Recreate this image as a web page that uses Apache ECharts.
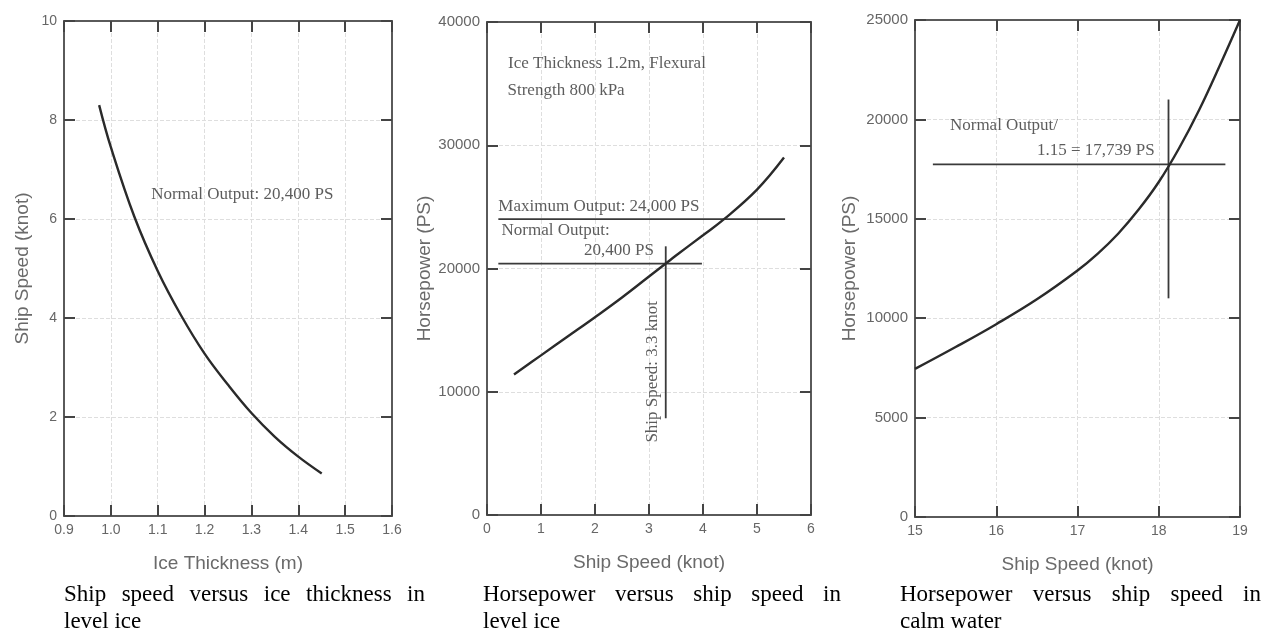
<!DOCTYPE html>
<html>
<head>
<meta charset="utf-8">
<script src="https://cdn.jsdelivr.net/npm/echarts@6/dist/echarts.min.js"></script>
<style>
html,body{margin:0;padding:0;background:#fff;}
#chart{position:absolute;left:0;top:0;width:1271px;height:630px;}
.cap{position:absolute;top:580px;font-family:'Liberation Serif','Times New Roman',serif;font-size:23px;line-height:27px;color:#000;}
.cap .l1{text-align:justify;text-align-last:justify;}
</style>
</head>
<body>
<div id="chart"></div>
<div class="cap" style="left:64px;width:361px"><div class="l1">Ship speed versus ice thickness in</div><div>level ice</div></div>
<div class="cap" style="left:483px;width:358px"><div class="l1">Horsepower versus ship speed in</div><div>level ice</div></div>
<div class="cap" style="left:900px;width:361px"><div class="l1">Horsepower versus ship speed in</div><div>calm water</div></div>
<script>
// ---- Panel 1: ship speed vs ice thickness (level ice)
const p1Thickness = [0.975, 1.0, 1.05, 1.1, 1.15, 1.2, 1.25, 1.3, 1.35, 1.4, 1.45];
const p1Speed     = [8.3,   7.45, 6.05, 4.95, 4.05, 3.28, 2.65, 2.08, 1.6, 1.2, 0.86];
const p1XTicks = [0.9, 1.0, 1.1, 1.2, 1.3, 1.4, 1.5, 1.6];
const p1YTicks = [0, 2, 4, 6, 8, 10];

// ---- Panel 2: horsepower vs ship speed (level ice)
const p2Speed = [0.5, 1, 1.5, 2, 2.5, 3, 3.31, 3.5, 4, 4.39, 5, 5.5];
const p2Power = [11400, 12950, 14500, 16050, 17650, 19350, 20400, 21050, 22700, 24000, 26400, 29000];
const p2XTicks = [0, 1, 2, 3, 4, 5, 6];
const p2YTicks = [0, 10000, 20000, 30000, 40000];
const p2MaxLineX = [0.21, 5.52], p2MaxLineY = [24000, 24000];
const p2NormLineX = [0.21, 3.98], p2NormLineY = [20400, 20400];
const p2SpeedLineX = [3.31, 3.31], p2SpeedLineY = [21800, 7850];

// ---- Panel 3: horsepower vs ship speed (calm water)
const p3Speed = [15, 15.5, 16, 16.5, 17, 17.25, 17.5, 17.75, 18, 18.25, 18.5, 18.75, 19];
const p3Power = [7450, 8550, 9700, 10950, 12400, 13250, 14250, 15450, 16850, 18550, 20500, 22700, 25000];
const p3XTicks = [15, 16, 17, 18, 19];
const p3YTicks = [0, 5000, 10000, 15000, 20000, 25000];
const p3HLineX = [15.22, 18.82], p3HLineY = [17739, 17739];
const p3VLineX = [18.12, 18.12], p3VLineY = [21000, 11000];

// ---- Annotation texts: [x, y, text, align, rotate]
const p1Notes = [[1.086, 6.5, 'Normal Output: 20,400 PS', 'left', 0]];
const p2Notes = [
  [0.39, 36660, 'Ice Thickness 1.2m, Flexural', 'left', 0],
  [0.38, 34470, 'Strength 800 kPa', 'left', 0],
  [0.21, 25000, 'Maximum Output: 24,000 PS', 'left', 0],
  [0.27, 23060, 'Normal Output:', 'left', 0],
  [3.09, 21490, '20,400 PS', 'right', 0],
  [3.07, 11620, 'Ship Speed: 3.3 knot', 'center', 90]
];
const p3Notes = [
  [15.43, 19700, 'Normal Output/', 'left', 0],
  [17.95, 18440, '1.15 = 17,739 PS', 'right', 0]
];

const zip = (a, b) => a.map((v, i) => [v, b[i]]);
const FRAME = '#5a5a5a';
const grids = [
  {left: 64, top: 21, width: 328, height: 495},
  {left: 487, top: 22, width: 324, height: 493},
  {left: 915, top: 20, width: 325, height: 497}
];
const panels = [
  {xt: p1XTicks, yt: p1YTicks, xfmt: v => v.toFixed(1), xname: 'Ice Thickness (m)', yname: 'Ship Speed (knot)', ygap: 32, yfs: 14},
  {xt: p2XTicks, yt: p2YTicks, xfmt: v => String(v), xname: 'Ship Speed (knot)', yname: 'Horsepower (PS)', ygap: 51, yfs: 15},
  {xt: p3XTicks, yt: p3YTicks, xfmt: v => String(v), xname: 'Ship Speed (knot)', yname: 'Horsepower (PS)', ygap: 56, yfs: 15}
];
const tickStyle = {show: true, inside: true, length: 11, lineStyle: {color: '#444', width: 2}};
const lineStyleAxis = {show: true, onZero: false, lineStyle: {color: FRAME, width: 2}};
const split = {show: true, lineStyle: {color: '#dedede', type: 'dashed', width: 1}};
const xAxis = [], yAxis = [];
panels.forEach((p, g) => {
  const xmin = p.xt[0], xmax = p.xt[p.xt.length - 1], xint = +(p.xt[1] - p.xt[0]).toFixed(3);
  const ymin = p.yt[0], ymax = p.yt[p.yt.length - 1], yint = p.yt[1] - p.yt[0];
  xAxis.push({
    type: 'value', gridIndex: g, min: xmin, max: xmax, interval: xint, position: 'bottom',
    axisLine: lineStyleAxis, axisTick: tickStyle, splitLine: split,
    axisLabel: {show: true, margin: 7, color: '#666', fontSize: 14, fontFamily: 'Liberation Sans', formatter: p.xfmt, showMinLabel: true, showMaxLabel: true},
    name: p.xname, nameLocation: 'middle', nameGap: 38,
    nameTextStyle: {color: '#6a6a6a', fontSize: 19, fontFamily: 'Liberation Sans'}
  });
  xAxis.push({
    type: 'value', gridIndex: g, min: xmin, max: xmax, interval: xint, position: 'top',
    axisLine: lineStyleAxis, axisTick: tickStyle, splitLine: {show: false}, axisLabel: {show: false}
  });
  yAxis.push({
    type: 'value', gridIndex: g, min: ymin, max: ymax, interval: yint, position: 'left',
    axisLine: lineStyleAxis, axisTick: tickStyle, splitLine: split,
    axisLabel: {show: true, margin: 7, color: '#666', fontSize: p.yfs, fontFamily: 'Liberation Sans', formatter: v => String(v), showMinLabel: true, showMaxLabel: true},
    name: p.yname, nameLocation: 'middle', nameGap: p.ygap, nameRotate: 90,
    nameTextStyle: {color: '#6a6a6a', fontSize: 19, fontFamily: 'Liberation Sans'}
  });
  yAxis.push({
    type: 'value', gridIndex: g, min: ymin, max: ymax, interval: yint, position: 'right',
    axisLine: lineStyleAxis, axisTick: tickStyle, splitLine: {show: false}, axisLabel: {show: false}
  });
});

function curve(g, data, width, color) {
  return {type: 'line', xAxisIndex: g * 2, yAxisIndex: g * 2, data: data, showSymbol: false, symbol: 'none',
    smooth: 0.4, silent: true, lineStyle: {color: color, width: width}, z: 5};
}
function seg(g, xs, ys) {
  return {type: 'line', xAxisIndex: g * 2, yAxisIndex: g * 2, data: zip(xs, ys), showSymbol: false, symbol: 'none',
    silent: true, lineStyle: {color: '#3a3a3a', width: 1.8}, z: 4};
}
function notes(g, list) {
  return list.map(n => ({
    type: 'scatter', xAxisIndex: g * 2, yAxisIndex: g * 2, data: [[n[0], n[1]]], symbolSize: 1,
    itemStyle: {color: 'rgba(0,0,0,0)'}, silent: true, z: 6,
    label: {show: true, position: 'inside', align: n[3], verticalAlign: 'middle', rotate: n[4],
      formatter: n[2], color: '#333', fontSize: 17, fontFamily: 'Liberation Serif'}
  }));
}

const series = [
  curve(0, zip(p1Thickness, p1Speed), 2.4, '#2a2a2a'),
  curve(1, zip(p2Speed, p2Power), 2.4, '#2a2a2a'),
  curve(2, zip(p3Speed, p3Power), 2.4, '#2a2a2a'),
  seg(1, p2MaxLineX, p2MaxLineY),
  seg(1, p2NormLineX, p2NormLineY),
  seg(1, p2SpeedLineX, p2SpeedLineY),
  seg(2, p3HLineX, p3HLineY),
  seg(2, p3VLineX, p3VLineY)
].concat(notes(0, p1Notes), notes(1, p2Notes), notes(2, p3Notes));

const chart = echarts.init(document.getElementById('chart'), null, {renderer: 'canvas'});
chart.setOption({
  animation: false,
  backgroundColor: '#fff',
  grid: grids,
  xAxis: xAxis,
  yAxis: yAxis,
  series: series
});
</script>
</body>
</html>
